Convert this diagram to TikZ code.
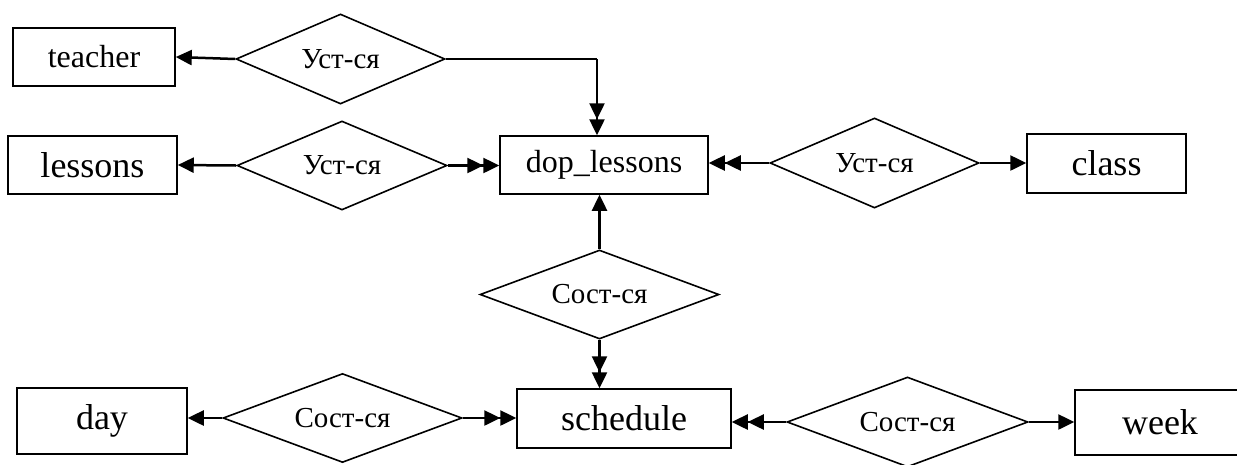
\documentclass[tikz,border=0pt]{standalone}
\usepackage{fontspec}
\setmainfont{Liberation Serif}
\usetikzlibrary{arrows.meta,shapes.geometric,positioning}

\tikzset{
	ent/.style={draw,rectangle,line width=1.5pt,inner sep=0pt,font=\fontsize{36}{40}\selectfont},
	rel/.style={draw,diamond,aspect=2.4,line width=1.6pt,inner sep=0pt,font=\fontsize{29}{32}\selectfont},
	toone/.style={line width=2.5pt,-{Triangle[length=16pt,width=15pt]}},
	tomany/.style={line width=2.5pt,-{Triangle[length=16pt,width=15pt]Triangle[length=16pt,width=15pt]}}
}

\begin{document}
\begin{tikzpicture}[x=1pt,y=-1pt]

	\useasboundingbox (0,0) rectangle (1237,464);

	% entities
	\node[ent,minimum width=162,minimum height=58,font=\fontsize{32}{36}\selectfont] (teacher) at (94,57) {teacher};
	\node[ent,minimum width=169,minimum height=58] (lessons) at (92.5,165) {lessons};
	\node[ent,minimum width=208,minimum height=58,font=\fontsize{32}{36}\selectfont] (dop) at (604,165) {dop\_lessons};
	\node[ent,minimum width=159,minimum height=59] (class) at (1106.5,163.5) {class};
	\node[ent,minimum width=170,minimum height=66] (day) at (102,421) {day};
	\node[ent,minimum width=214,minimum height=59] (schedule) at (624,418.5) {schedule};
	\node[ent,minimum width=170,minimum height=65] (week) at (1160,422.5) {week};

	% relations
	\node[rel,minimum width=209,minimum height=90] (r1) at (340.5,59) {Уст-ся};
	\node[rel,minimum width=210,minimum height=89] (r2) at (342,165.5) {Уст-ся};
	\node[rel,minimum width=209,minimum height=90] (r3) at (874.5,163) {Уст-ся};
	\node[rel,minimum width=239,minimum height=89] (r4) at (599.5,294.5) {Сост-ся};
	\node[rel,minimum width=239,minimum height=89] (r5) at (342.5,418) {Сост-ся};
	\node[rel,minimum width=241,minimum height=90] (r6) at (907.5,422) {Сост-ся};

	\coordinate (bend) at (597,59);

	\draw[toone] (r1.west) -- (teacher.east);
	\draw[line width=2pt] (r1.east) -- (bend);
	\draw[tomany] (bend) -- (bend |- dop.north);

	\draw[toone] (r2.west) -- (lessons.east);
	\draw[tomany] (r2.east) -- (dop.west |- r2.east);

	\draw[tomany] (r3.west) -- (dop.east |- r3.west);
	\draw[toone] (r3.east) -- (class.west |- r3.east);

	\draw[toone] (r4.north) -- (r4.north |- dop.south);
	\draw[tomany] (r4.south) -- (r4.south |- schedule.north);

	\draw[toone] (r5.west) -- (day.east |- r5.west);
	\draw[tomany] (r5.east) -- (schedule.west |- r5.east);

	\draw[tomany] (r6.west) -- (schedule.east |- r6.west);
	\draw[toone] (r6.east) -- (week.west |- r6.east);

\end{tikzpicture}
\end{document}
